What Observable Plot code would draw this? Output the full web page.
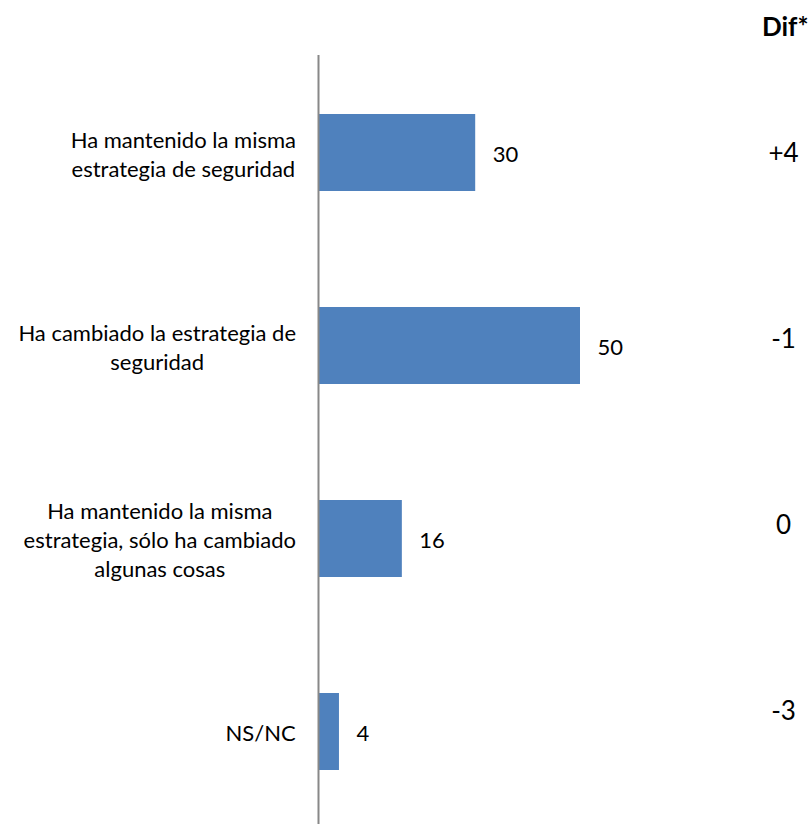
<!DOCTYPE html>
<html><head><meta charset="utf-8">
<script src="https://cdn.jsdelivr.net/npm/d3@7"></script>
<script src="https://cdn.jsdelivr.net/npm/@observablehq/plot@0.6"></script>
<style>
html,body{margin:0;padding:0;background:#fff;overflow:hidden}
#wrap{position:relative;width:811px;height:824px}
#wrap svg{position:absolute;left:0;top:0}
</style></head><body><div id="wrap"></div>
<script>
const categories = [
  "Ha mantenido la misma\nestrategia de seguridad",
  "Ha cambiado la estrategia de\nseguridad",
  "Ha mantenido la misma\nestrategia, sólo ha cambiado\nalgunas cosas",
  "NS/NC"
];
const values = [30, 50, 16, 4];
const difs = ["+4", "-1", "0", "-3"];
const difHeader = "Dif*";

const rows = categories.map((c, i) => ({cat: c, value: values[i], dif: difs[i]}));
const W = 811, H = 824;
const labelFont = "Lato, 'Open Sans', sans-serif";
const fs = 22;

const main = Plot.plot({
  width: W, height: H,
  marginTop: 55, marginBottom: 0, marginLeft: 318, marginRight: 231,
  x: {domain: [0, 50], axis: null},
  y: {domain: categories, range: [55, 828.3], paddingInner: 0.6, paddingOuter: 0.3, axis: null},
  style: {fontFamily: labelFont, background: "transparent"},
  marks: [
    Plot.barX(rows, {x: "value", y: "cat", fill: "#4F81BD"}),
    Plot.text(rows, {x: "value", y: "cat", text: d => String(d.value), textAnchor: "start", dx: 17, dy: 2, fontSize: fs, fill: "#000"}),
    Plot.text(rows, {x: 0, y: "cat", text: "cat", textAnchor: "middle", lineHeight: 29 / fs, fontSize: fs, fill: "#000", className: "catlab"}),
    Plot.ruleX([0], {stroke: "#888888", strokeWidth: 2})
  ]
});

const over = Plot.plot({
  width: W, height: H,
  marginTop: 0, marginBottom: 0, marginLeft: 0, marginRight: 28,
  y: {type: "point", domain: categories, range: [152, 712], padding: 0, axis: null},
  style: {background: "transparent"},
  marks: [
    Plot.text(rows, {y: "cat", text: "dif", frameAnchor: "right", textAnchor: "middle", lineAnchor: "middle", fontSize: 26, fontFamily: labelFont, fill: "#000"}),
    Plot.text([difHeader], {text: d => d, frameAnchor: "top-right", textAnchor: "end", lineAnchor: "middle", dx: 25, dy: 27, fontSize: 26, fontWeight: "bold", fontFamily: labelFont, fill: "#000"})
  ]
});

const wrap = document.getElementById("wrap");
wrap.appendChild(main);
wrap.appendChild(over);

// right-align each category block just left of the axis, lines centred within the block
const x0 = main.scale("x").apply(0);
const target = x0 - 22;
const svgRect = main.getBoundingClientRect();
main.querySelectorAll(".catlab text").forEach(t => {
  const r = t.getBoundingClientRect();
  const shift = target - (r.right - svgRect.left);
  t.setAttribute("transform", (t.getAttribute("transform") || "") + ` translate(${shift},0)`);
});
</script>
</body></html>
